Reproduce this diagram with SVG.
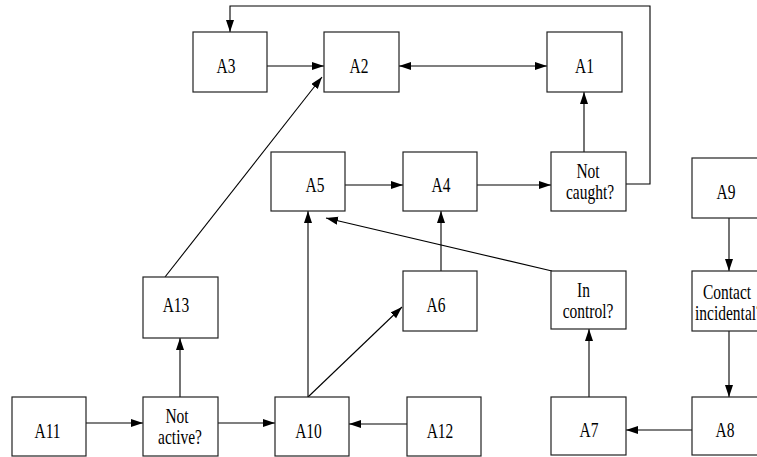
<svg xmlns="http://www.w3.org/2000/svg" width="757" height="457" viewBox="0 0 757 457">
<style>
rect.n{fill:#fff;stroke:#222;stroke-width:1.2}
text{font-family:"Liberation Serif","Times New Roman",serif;font-size:21.5px;fill:#000;text-anchor:middle}
.c path{fill:none;stroke:#000;stroke-width:1.1}
</style>
<defs>
<marker id="ah" markerUnits="userSpaceOnUse" markerWidth="13" markerHeight="9" refX="12" refY="4" orient="auto-start-reverse" viewBox="0 0 13 9">
<path d="M0,0 L12,4 L0,8 z" fill="#000"/>
</marker>
</defs>
<rect width="757" height="457" fill="#fff"/>
<g class="c" id="connectors">
<path d="M626,184 H650 V6 H230 V32" marker-end="url(#ah)"/>
<path d="M267,66 H324" marker-end="url(#ah)"/>
<path d="M399,66 H547" marker-start="url(#ah)" marker-end="url(#ah)"/>
<path d="M584,152 V92" marker-end="url(#ah)"/>
<path d="M345,185 H403" marker-end="url(#ah)"/>
<path d="M477,185 H551" marker-end="url(#ah)"/>
<path d="M165,277 L322,77" marker-end="url(#ah)"/>
<path d="M180,397 V338" marker-end="url(#ah)"/>
<path d="M86,423 H143" marker-end="url(#ah)"/>
<path d="M218,423 H275" marker-end="url(#ah)"/>
<path d="M407,424 H349" marker-end="url(#ah)"/>
<path d="M308,397 V211" marker-end="url(#ah)"/>
<path d="M308,397 L402,307" marker-end="url(#ah)"/>
<path d="M441,271 V211" marker-end="url(#ah)"/>
<path d="M552,271 L326,218" marker-end="url(#ah)"/>
<path d="M589,397 V329" marker-end="url(#ah)"/>
<path d="M692,430 H626" marker-end="url(#ah)"/>
<path d="M729,218 V271" marker-end="url(#ah)"/>
<path d="M729,331 V397" marker-end="url(#ah)"/>
</g>
<g id="A3"><rect class="n" x="193" y="32" width="74" height="60"/><text transform="translate(226 73) scale(0.72 1)">A3</text></g>
<g id="A2"><rect class="n" x="324" y="32" width="75" height="60"/><text transform="translate(359 73) scale(0.72 1)">A2</text></g>
<g id="A1"><rect class="n" x="547" y="32" width="75" height="60"/><text transform="translate(584.5 73) scale(0.72 1)">A1</text></g>
<g id="A5"><rect class="n" x="271" y="152" width="74" height="59"/><text transform="translate(315 192) scale(0.72 1)">A5</text></g>
<g id="A4"><rect class="n" x="403" y="152" width="74" height="59"/><text transform="translate(441 192) scale(0.72 1)">A4</text></g>
<g id="NotCaught"><rect class="n" x="551" y="152" width="75" height="59"/><text transform="translate(588 178) scale(0.72 1)">Not</text><text transform="translate(590 199) scale(0.72 1)">caught?</text></g>
<g id="A9"><rect class="n" x="692" y="158" width="74" height="60"/><text transform="translate(726 199) scale(0.72 1)">A9</text></g>
<g id="A13"><rect class="n" x="143" y="277" width="75" height="61"/><text transform="translate(176 312) scale(0.72 1)">A13</text></g>
<g id="A6"><rect class="n" x="403" y="271" width="74" height="60"/><text transform="translate(436 312) scale(0.72 1)">A6</text></g>
<g id="InControl"><rect class="n" x="551" y="271" width="75" height="58"/><text transform="translate(583.5 297) scale(0.72 1)">In</text><text transform="translate(588 318) scale(0.72 1)">control?</text></g>
<g id="Contact"><rect class="n" x="692" y="271" width="74" height="60"/><text transform="translate(727 299) scale(0.72 1)">Contact</text><text transform="translate(729 320) scale(0.72 1)">incidental?</text></g>
<g id="A11"><rect class="n" x="12" y="397" width="74" height="59"/><text transform="translate(47.5 438) scale(0.72 1)">A11</text></g>
<g id="NotActive"><rect class="n" x="143" y="397" width="75" height="59"/><text transform="translate(177 423) scale(0.72 1)">Not</text><text transform="translate(180 444) scale(0.72 1)">active?</text></g>
<g id="A10"><rect class="n" x="275" y="397" width="74" height="59"/><text transform="translate(308.5 438) scale(0.72 1)">A10</text></g>
<g id="A12"><rect class="n" x="407" y="397" width="74" height="59"/><text transform="translate(440 438) scale(0.72 1)">A12</text></g>
<g id="A7"><rect class="n" x="551" y="397" width="75" height="58"/><text transform="translate(589 437) scale(0.72 1)">A7</text></g>
<g id="A8"><rect class="n" x="692" y="397" width="74" height="58"/><text transform="translate(725 437) scale(0.72 1)">A8</text></g>
</svg>
